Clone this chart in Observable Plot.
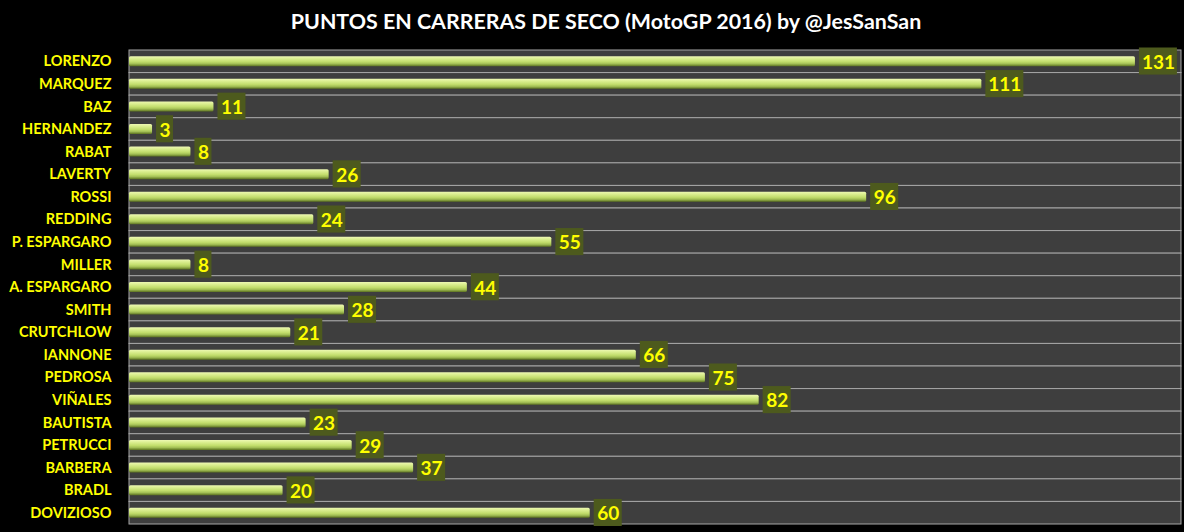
<!DOCTYPE html>
<html><head><meta charset="utf-8">
<script src="https://cdn.jsdelivr.net/npm/d3@7"></script>
<script src="https://cdn.jsdelivr.net/npm/@observablehq/plot@0.6"></script>
<style>
body{margin:0;background:#000;width:1184px;height:532px;overflow:hidden}
#title{height:40px;line-height:42px;color:#fff;font-family:Lato,sans-serif;font-weight:bold;font-size:21.4px;text-align:center;padding-left:28px;box-sizing:border-box;width:1184px}
#chart svg{display:block;overflow:visible}
</style></head><body>
<div id="title">PUNTOS EN CARRERAS DE SECO (MotoGP 2016) by @JesSanSan</div>
<div id="chart"></div>
<script>
const names = ["LORENZO","MARQUEZ","BAZ","HERNANDEZ","RABAT","LAVERTY","ROSSI","REDDING","P. ESPARGARO","MILLER","A. ESPARGARO","SMITH","CRUTCHLOW","IANNONE","PEDROSA","VIÑALES","BAUTISTA","PETRUCCI","BARBERA","BRADL","DOVIZIOSO"];
const points = [131,111,11,3,8,26,96,24,55,8,44,28,21,66,75,82,23,29,37,20,60];
const xMax = 137;

const rows = names.map((n, i) => ({name: n, pts: points[i], digits: String(points[i]).length}));
const boxWidths = {1: 17, 2: 28, 3: 38};

const defs = () => {
  const d = d3.create("svg:defs");
  const g = d.append("linearGradient").attr("id", "barGrad").attr("x1", 0).attr("x2", 0).attr("y1", 0).attr("y2", 1);
  g.append("stop").attr("offset", "0%").attr("stop-color", "#eef8b4");
  g.append("stop").attr("offset", "22%").attr("stop-color", "#dcef92");
  g.append("stop").attr("offset", "55%").attr("stop-color", "#c2dd6c");
  g.append("stop").attr("offset", "75%").attr("stop-color", "#a4c056");
  g.append("stop").attr("offset", "100%").attr("stop-color", "#5c7220");
  return d.node();
};

const labelMarks = [];
for (const k of [1, 2, 3]) {
  const w = boxWidths[k];
  const sub = rows.filter(d => d.digits === k);
  labelMarks.push(Plot.barX(sub, {y: "name", x1: "pts", x2: "pts", insetLeft: 4, insetRight: -4 - w, insetTop: -2.5, insetBottom: -2, fill: "#4d5a1d"}));
  labelMarks.push(Plot.text(sub, {y: "name", x: "pts", dx: 4 + w / 2, dy: 1, text: d => String(d.pts), textAnchor: "middle", fill: "#ffff00", fontWeight: "bold", fontSize: 19, fontFamily: "Lato"}));
}

const chart = Plot.plot({
  width: 1184,
  height: 492,
  marginTop: 10,
  marginBottom: 8,
  marginLeft: 129,
  marginRight: 3,
  style: {background: "#000", fontFamily: "Lato, sans-serif"},
  x: {domain: [0, xMax], axis: null},
  y: {domain: names, padding: 0, round: false, axis: null},
  marks: [
    defs,
    Plot.barX(names, {y: d => d, x1: 0, x2: xMax, fill: "#3e3e3e", stroke: "#a6a6a6", strokeWidth: 1, inset: 0}),
    Plot.barX(rows, {y: "name", x: "pts", insetTop: 6.3, insetBottom: 6.3, fill: "url(#barGrad)", rx: 1.5}),
    ...labelMarks,
    Plot.text(names, {y: d => d, frameAnchor: "left", dx: -18, textAnchor: "end", fill: "#ffff00", fontWeight: "bold", fontSize: 14.5, fontFamily: "Lato"})
  ]
});
document.getElementById("chart").appendChild(chart);
</script>
</body></html>
